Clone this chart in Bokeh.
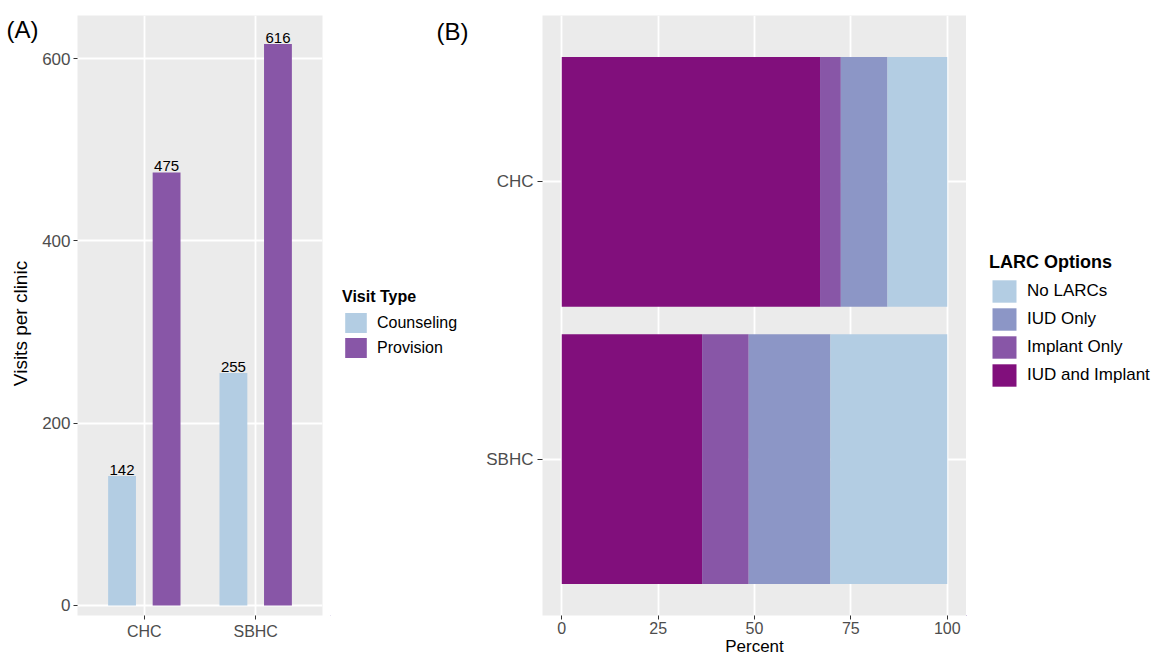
from math import pi
from bokeh.plotting import figure
from bokeh.models import (ColumnDataSource, Range1d, FixedTicker, Legend,
                          LegendItem, Label)
from bokeh.layouts import row
from bokeh.transform import dodge
from bokeh.core.properties import value
from bokeh.embed import file_html
from bokeh.resources import INLINE

# ---------------- data ----------------
clinics = ["CHC", "SBHC"]
visit_types = ["Counseling", "Provision"]
counseling = [142, 255]
provision = [475, 616]
visit_colors = ["#B3CDE3", "#8856A7"]
visit_ticks = [0, 200, 400, 600]

larc_options = ["IUD and Implant", "Implant Only", "IUD Only", "No LARCs"]
larc_chc = [67.0, 5.4, 12.1, 15.5]
larc_sbhc = [36.4, 12.1, 21.2, 30.3]
larc_colors = ["#810F7C", "#8856A7", "#8C96C6", "#B3CDE3"]
percent_ticks = [0, 25, 50, 75, 100]

panel_tags = ["(A)", "(B)"]

# ---------------- style ----------------
FONT = "Liberation Sans"
PANEL_BG = "#EBEBEB"
TICK_LABEL = "#4D4D4D"
TICK_LINE = "#333333"
GRID_W = 1.8
H = 660
TOP = 15
BOTTOM = 45
FRAME_H = H - TOP - BOTTOM


def style_axis(ax, size):
    ax.axis_line_color = None
    ax.major_tick_line_color = TICK_LINE
    ax.major_tick_in = 0
    ax.major_tick_out = 4
    ax.minor_tick_line_color = None
    ax.major_label_text_font = FONT
    ax.major_label_text_font_size = size
    ax.major_label_text_color = TICK_LABEL
    ax.major_label_standoff = 3
    ax.axis_label_text_font = FONT
    ax.axis_label_text_font_style = "normal"
    ax.axis_label_text_color = "black"


def blank_fig(width):
    """Axis-less white strip that holds legends / tags inside its frame.
    Its ranges lie far away from any data, so key glyphs stay off-frame."""
    f = figure(width=width, height=H, output_backend="svg",
               toolbar_location=None, x_range=Range1d(5000, 5001),
               y_range=Range1d(5000, 5001), x_axis_location=None,
               y_axis_location=None, min_border_left=0, min_border_right=0,
               min_border_top=TOP, min_border_bottom=BOTTOM)
    f.background_fill_color = "white"
    f.border_fill_color = "white"
    f.outline_line_color = None
    f.grid.visible = False
    return f


def plain_legend(leg):
    leg.padding = 0
    leg.margin = 0
    leg.border_line_color = None
    leg.background_fill_alpha = 0
    leg.title_text_font = FONT
    leg.label_text_font = FONT
    leg.title_text_color = "black"
    leg.label_text_color = "black"
    leg.title_text_font_style = "bold"
    leg.spacing = 0


# ================= strip left of panel A: tag + y title =================
tagA = blank_fig(39)
tagA.add_layout(Label(x=6, y=FRAME_H, x_units="screen", y_units="screen",
                      text=panel_tags[0], text_font=FONT,
                      text_font_size="24px", text_color="black",
                      text_align="left", text_baseline="top"))
tagA.add_layout(Label(x=20, y=FRAME_H + TOP - 323, x_units="screen",
                      y_units="screen", text="Visits per clinic",
                      text_font=FONT, text_font_size="19px",
                      text_color="black", angle=pi / 2,
                      text_align="center", text_baseline="middle"))

# ================= Panel A =================
pA = figure(width=291, height=H, output_backend="svg", toolbar_location=None,
            x_range=Range1d(0.4, 2.6), y_range=Range1d(-11, 647.2),
            min_border_left=36, min_border_right=8,
            min_border_top=TOP, min_border_bottom=BOTTOM)
pA.background_fill_color = PANEL_BG
pA.border_fill_color = "white"
pA.outline_line_color = None

pos = list(range(1, len(clinics) + 1))
srcA = ColumnDataSource(dict(
    pos=pos,
    counseling=counseling,
    provision=provision,
    counseling_lbl=[str(v) for v in counseling],
    provision_lbl=[str(v) for v in provision],
))

visit_cols = ["counseling", "provision"]
offsets = [-0.2, 0.2]
for col, off, c in zip(visit_cols, offsets, visit_colors):
    pA.vbar(x=dodge("pos", off), top=col, width=0.25, source=srcA,
            fill_color=c, line_color=None)
    pA.text(x=dodge("pos", off), y=col, text=col + "_lbl", source=srcA,
            text_font=value(FONT), text_font_size="15px", text_color="black",
            text_align="center", text_baseline="bottom", y_offset=-1)

style_axis(pA.xaxis[0], "16px")
style_axis(pA.yaxis[0], "17px")
pA.xaxis.ticker = FixedTicker(ticks=pos)
pA.xaxis.major_label_overrides = {p: c for p, c in zip(pos, clinics)}
pA.yaxis.ticker = FixedTicker(ticks=visit_ticks)

for g in (pA.xgrid[0], pA.ygrid[0]):
    g.grid_line_color = "white"
    g.grid_line_width = GRID_W

# ================= legend strip A (+ tag B) =================
legA_fig = blank_fig(140)
# same bars, drawn in the strip's far-away ranges: only the keys show
keysA = [legA_fig.vbar(x=dodge("pos", off), top=col, width=0.25,
                       source=srcA, fill_color=c, line_color=None)
         for col, off, c in zip(visit_cols, offsets, visit_colors)]
legA = Legend(items=[LegendItem(label=t, renderers=[r])
                     for t, r in zip(visit_types, keysA)],
              title="Visit Type", location=(12, TOP + FRAME_H - 360))
plain_legend(legA)
legA.title_text_font_size = "16px"
legA.label_text_font_size = "16px"
legA.title_standoff = 4
legA.glyph_width = 27
legA.glyph_height = 25
legA.label_standoff = 8
legA_fig.add_layout(legA)
legA_fig.add_layout(Label(x=106, y=FRAME_H - 2, x_units="screen",
                          y_units="screen", text=panel_tags[1],
                          text_font=FONT, text_font_size="24px",
                          text_color="black", text_align="left",
                          text_baseline="top"))

# ================= Panel B =================
pB = figure(width=496, height=H, output_backend="svg", toolbar_location=None,
            x_range=Range1d(-5, 105), y_range=Range1d(0.436, 2.6),
            min_border_left=72, min_border_right=0,
            min_border_top=TOP, min_border_bottom=BOTTOM)
pB.background_fill_color = PANEL_BG
pB.border_fill_color = "white"
pB.outline_line_color = None

ypos = [len(clinics) - i for i in range(len(clinics))]  # CHC on top
dataB = dict(y=ypos)
for k, opt in enumerate(larc_options):
    dataB[opt] = [larc_chc[k], larc_sbhc[k]]
srcB = ColumnDataSource(dataB)

pB.hbar_stack(larc_options, y="y", height=0.9, color=larc_colors,
              source=srcB, line_color=None)

style_axis(pB.xaxis[0], "16px")
style_axis(pB.yaxis[0], "17px")
pB.yaxis.major_tick_out = 5
pB.yaxis.major_label_standoff = 4
pB.xaxis.major_label_standoff = 2
pB.xaxis.ticker = FixedTicker(ticks=percent_ticks)
pB.yaxis.ticker = FixedTicker(ticks=ypos)
pB.yaxis.major_label_overrides = {p: c for p, c in zip(ypos, clinics)}
pB.xaxis.axis_label = "Percent"
pB.xaxis.axis_label_text_font_size = "17px"
pB.xaxis.axis_label_standoff = 0

for g in (pB.xgrid[0], pB.ygrid[0]):
    g.grid_line_color = "white"
    g.grid_line_width = GRID_W

# ================= legend strip B =================
legB_fig = blank_fig(194)
keysB = legB_fig.hbar_stack(larc_options, y="y", height=0.9,
                            color=larc_colors, source=srcB, line_color=None)
legB = Legend(items=[LegendItem(label=larc_options[k], renderers=[keysB[k]])
                     for k in reversed(range(len(larc_options)))],
              title="LARC Options", location=(23, TOP + FRAME_H - 389))
plain_legend(legB)
legB.title_text_font_size = "18px"
legB.label_text_font_size = "17px"
legB.title_standoff = 4
legB.glyph_width = 30
legB.glyph_height = 28
legB.label_standoff = 8
legB_fig.add_layout(legB)

layout = row(tagA, pA, legA_fig, pB, legB_fig)
open("out.html", "w").write(file_html(layout, INLINE))
